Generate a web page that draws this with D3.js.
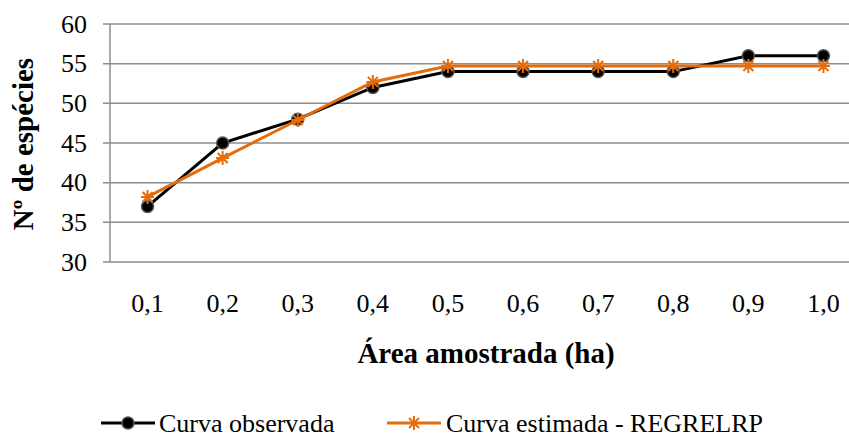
<!DOCTYPE html>
<html>
<head>
<meta charset="utf-8">
<script src="https://cdn.jsdelivr.net/npm/d3@7"></script>
<style>
  body { margin: 0; background: #fff; }
  svg { display: block; font-family: "Liberation Serif", "Times New Roman", serif; }
</style>
</head>
<body>
<svg class="chart" width="849" height="438"></svg>
<script>
var categories = ['0,1', '0,2', '0,3', '0,4', '0,5', '0,6', '0,7', '0,8', '0,9', '1,0'];
var observada = [37, 45, 48, 52, 54, 54, 54, 54, 56, 56];
var estimada = [38.2, 43.1, 47.9, 52.7, 54.7, 54.7, 54.7, 54.7, 54.7, 54.7];
var yTicks = [30, 35, 40, 45, 50, 55, 60];

var orange = '#E46C0A';
var svg = d3.select('.chart');

var x = d3.scaleBand()
    .domain(categories)
    .range([110, 861]);

var y = d3.scaleLinear()
    .domain([30, 60])
    .range([262, 24]);

// gridlines
svg.append('g')
    .selectAll('line')
    .data(yTicks)
  .enter().append('line')
    .attr('x1', 103)
    .attr('x2', 849)
    .attr('y1', function(d) { return y(d); })
    .attr('y2', function(d) { return y(d); })
    .attr('stroke', '#8c8c8c')
    .attr('stroke-width', 1.5)

// y axis line
svg.append('line')
    .attr('x1', 110).attr('x2', 110)
    .attr('y1', y(60)).attr('y2', y(30))
    .attr('stroke', '#8c8c8c')
    .attr('stroke-width', 1.5)

// y tick labels
svg.append('g')
    .selectAll('text')
    .data(yTicks)
  .enter().append('text')
    .text(function(d) { return d; })
    .attr('x', 87)
    .attr('y', function(d) { return y(d); })
    .attr('dy', '0.33em')
    .attr('text-anchor', 'end')
    .attr('font-size', 26)
    .attr('fill', '#000')

// x tick labels
svg.append('g')
    .selectAll('text')
    .data(categories)
  .enter().append('text')
    .text(function(d) { return d; })
    .attr('x', function(d) { return x(d) + x.bandwidth() / 2; })
    .attr('y', 312)
    .attr('text-anchor', 'middle')
    .attr('font-size', 26)
    .attr('fill', '#000')

// axis titles
svg.append('text')
    .text('Nº de espécies')
    .attr('transform', 'translate(33,144) rotate(-90)')
    .attr('text-anchor', 'middle')
    .attr('font-size', 29)
    .attr('font-weight', 'bold')

svg.append('text')
    .text('Área amostrada (ha)')
    .attr('x', 486)
    .attr('y', 363)
    .attr('text-anchor', 'middle')
    .attr('font-size', 29)
    .attr('font-weight', 'bold')

var cx = function(d, i) { return x(categories[i]) + x.bandwidth() / 2; };

var line = d3.line()
    .x(cx)
    .y(function(d) { return y(d); });

// observed series
svg.append('path')
    .datum(observada)
    .attr('d', line)
    .attr('fill', 'none')
    .attr('stroke', '#000')
    .attr('stroke-width', 3)

svg.append('g')
    .selectAll('circle')
    .data(observada)
  .enter().append('circle')
    .attr('cx', cx)
    .attr('cy', function(d) { return y(d); })
    .attr('r', 6)
    .attr('fill', '#000')
    .attr('stroke', '#555')
    .attr('stroke-width', 1.5)

// estimated series
svg.append('path')
    .datum(estimada)
    .attr('d', line)
    .attr('fill', 'none')
    .attr('stroke', orange)
    .attr('stroke-width', 3)

var star = 'M-6.5,0H6.5M0,-7V7M-5,-5L5,5M-5,5L5,-5';

svg.append('g')
    .selectAll('path')
    .data(estimada)
  .enter().append('path')
    .attr('transform', function(d, i) { return `translate(${cx(d, i)},${y(d)})`; })
    .attr('d', star)
    .attr('stroke', orange)
    .attr('stroke-width', 2)
    .attr('fill', 'none')

// legend
var legend = svg.append('g').attr('font-size', 26);

legend.append('line')
    .attr('x1', 101).attr('x2', 155).attr('y1', 423).attr('y2', 423)
    .attr('stroke', '#000').attr('stroke-width', 3)
legend.append('circle')
    .attr('cx', 128).attr('cy', 423).attr('r', 6)
    .attr('fill', '#000').attr('stroke', '#555').attr('stroke-width', 1.5)
legend.append('text')
    .text('Curva observada')
    .attr('x', 159).attr('y', 432)

legend.append('line')
    .attr('x1', 387).attr('x2', 441).attr('y1', 423).attr('y2', 423)
    .attr('stroke', orange).attr('stroke-width', 3)
legend.append('path')
    .attr('transform', 'translate(414,423)')
    .attr('d', star)
    .attr('stroke', orange).attr('stroke-width', 2)
legend.append('text')
    .text('Curva estimada - REGRELRP')
    .attr('x', 446).attr('y', 432)
</script>
</body>
</html>
